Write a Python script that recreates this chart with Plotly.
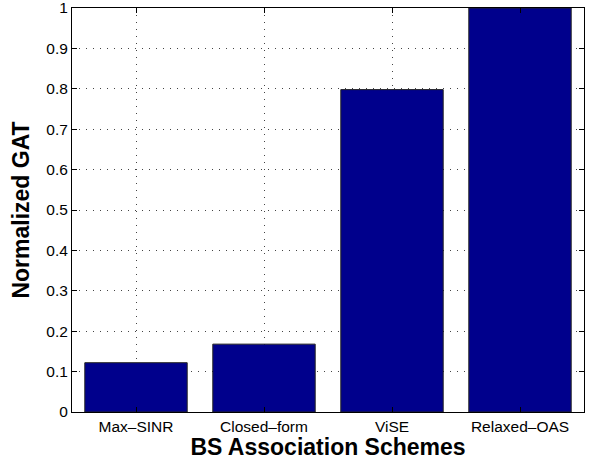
import plotly.graph_objects as go

schemes = ["Max–SINR", "Closed–form", "ViSE", "Relaxed–OAS"]
normalized_gat = [0.122, 0.168, 0.798, 1.0]
y_ticks = [0, 0.1, 0.2, 0.3, 0.4, 0.5, 0.6, 0.7, 0.8, 0.9, 1.0]
y_tick_text = ["0", "0.1", "0.2", "0.3", "0.4", "0.5", "0.6", "0.7", "0.8", "0.9", "1"]

fig = go.Figure()
fig.add_trace(go.Bar(
    x=schemes, y=normalized_gat, width=0.8,
    marker=dict(color="#00008C", line=dict(color="#222222", width=1)),
))

font_family = "Liberation Sans, Arial, Helvetica, sans-serif"
grid_dash = "1px,6px"
fig.update_layout(
    width=593, height=460,
    margin=dict(l=72, r=9, t=8, b=48, autoexpand=False),
    paper_bgcolor="white", plot_bgcolor="white",
    showlegend=False,
    font=dict(family=font_family, size=15.5, color="black"),
    bargap=0.2,
)
fig.update_xaxes(
    range=[-0.5, 3.5],
    showline=True, linecolor="black", linewidth=1, mirror="ticks",
    ticks="inside", ticklen=5, tickcolor="black",
    showgrid=True, gridcolor="#444444", griddash=grid_dash, gridwidth=1,
    tickfont=dict(size=15.5, family=font_family),
    automargin=False,
    title=dict(text="<b>BS Association Schemes</b>", font=dict(size=23, family=font_family), standoff=0),
)
fig.update_yaxes(
    range=[0, 1],
    tickvals=y_ticks, ticktext=y_tick_text,
    showline=True, linecolor="black", linewidth=1, mirror="ticks",
    ticks="inside", ticklen=5, tickcolor="black",
    showgrid=True, gridcolor="#444444", griddash=grid_dash, gridwidth=1,
    zeroline=False,
    ticklabeloverflow="allow",
    automargin=False,
    tickfont=dict(size=15.5, family=font_family),
    title=dict(text="<b>Normalized GAT</b>", font=dict(size=23, family=font_family), standoff=10),
)

fig.write_html("out.html")
